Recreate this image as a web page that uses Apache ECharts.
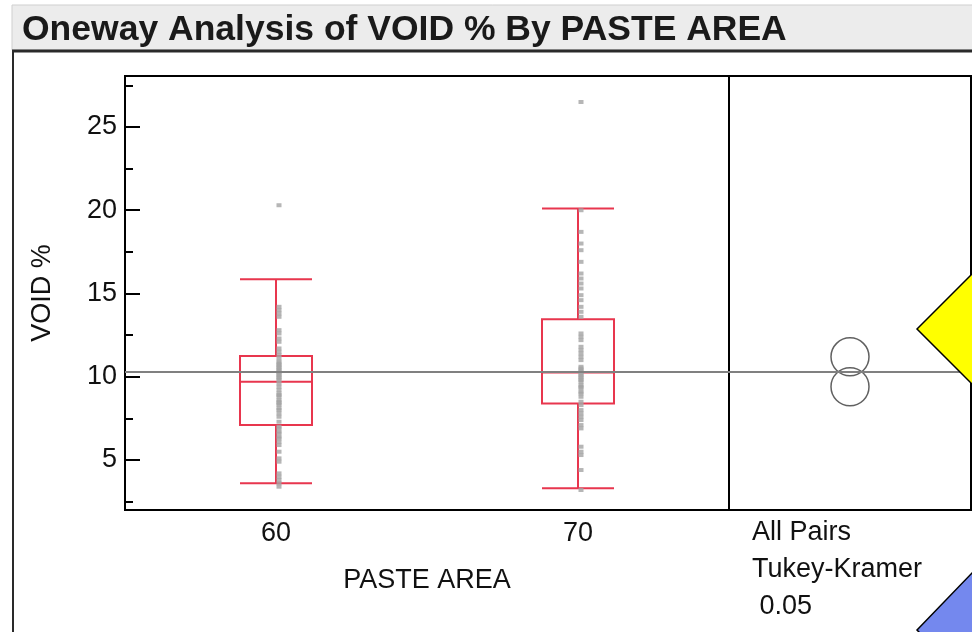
<!DOCTYPE html>
<html>
<head>
<meta charset="utf-8">
<script src="https://cdn.jsdelivr.net/npm/echarts@6/dist/echarts.min.js"></script>
<style>
  html, body { margin: 0; padding: 0; background: #fff; }
  #onewayChart { width: 972px; height: 632px; }
</style>
</head>
<body>
<div id="onewayChart"></div>
<script>
// categories and values
var pasteAreas = ['60', '70'];
// [min, q1, median, q3, max]
var boxStats = [
  [3.6, 7.1, 9.7, 11.25, 15.85],
  [3.3, 8.4, 10.25, 13.45, 20.1]
];
var voids60 = [20.3, 14.2, 14.0, 13.8, 13.6, 12.8, 12.6, 12.3, 12.1, 11.7, 11.5, 11.3, 11.1,
  10.9, 10.8, 10.7, 10.6, 10.5, 10.4, 10.3, 10.2, 10.1, 10.0, 9.9, 9.8, 9.6, 9.4, 9.2,
  9.0, 8.9, 8.8, 8.6, 8.5, 8.4, 8.3, 8.1, 8.0, 7.8, 7.6, 7.3, 7.0, 6.9, 6.7, 6.6, 6.4,
  6.3, 6.1, 5.9, 5.5, 5.1, 4.9, 4.2, 4.0, 3.8, 3.6, 3.4];
var voids70 = [26.5, 20.0, 18.7, 18.0, 17.6, 16.9, 16.2, 15.9, 15.6, 15.3, 14.9, 14.6, 14.2,
  13.9, 13.6, 12.6, 12.4, 12.2, 11.8, 11.6, 11.4, 11.2, 11.0, 10.6, 10.5, 10.4, 10.3,
  10.2, 10.1, 10.0, 9.9, 9.8, 9.7, 9.5, 9.4, 9.3, 9.1, 9.0, 8.8, 8.5, 8.3, 8.0, 7.8,
  7.6, 7.4, 7.1, 6.9, 5.8, 5.5, 5.3, 4.4, 3.2];
var groupMeans = [9.4, 11.2];
var grandMean = 10.28;
var majorTicks = [5, 10, 15, 20, 25];
var minorTicks = [2.5, 7.5, 12.5, 17.5, 22.5, 27.5];
var compareLabel = ['All Pairs', 'Tukey-Kramer', ' 0.05'];

var yMin = 2, yMax = 28.06;
var textFont = 'Liberation Sans, Arial, sans-serif';

function pts(cat, vals) {
  return vals.map(function (v) { return [cat, v]; });
}

var option = {
  animation: false,
  backgroundColor: '#fff',
  textStyle: { fontFamily: textFont },
  grid: [
    { left: 125, top: 76, width: 604, height: 434, show: true, borderColor: '#000', borderWidth: 2, backgroundColor: 'transparent' },
    { left: 729, top: 76, width: 242, height: 434, show: true, borderColor: '#000', borderWidth: 2, backgroundColor: 'transparent' }
  ],
  xAxis: [
    {
      type: 'category',
      gridIndex: 0,
      data: pasteAreas,
      boundaryGap: true,
      axisLine: { lineStyle: { color: '#000', width: 2 } },
      axisTick: { inside: true, length: 9, lineStyle: { color: '#000', width: 2 } },
      axisLabel: { color: '#111', fontSize: 27, margin: 10 },
      splitLine: { show: false },
      name: 'PASTE AREA',
      nameLocation: 'middle',
      nameGap: 57,
      nameTextStyle: { color: '#111', fontSize: 27 }
    },
    {
      type: 'category',
      gridIndex: 1,
      data: [''],
      axisLine: { lineStyle: { color: '#000', width: 2 } },
      axisTick: { show: false },
      axisLabel: { show: false },
      splitLine: { show: false }
    }
  ],
  yAxis: [
    {
      type: 'value',
      gridIndex: 0,
      min: yMin,
      max: yMax,
      axisLine: { show: true, lineStyle: { color: '#000', width: 2 } },
      axisTick: { show: true, inside: true, length: 15, customValues: majorTicks, lineStyle: { color: '#000', width: 2 } },
      axisLabel: { customValues: majorTicks, color: '#111', fontSize: 27, margin: 8 },
      splitLine: { show: false },
      name: 'VOID %',
      nameLocation: 'middle',
      nameGap: 69,
      nameTextStyle: { color: '#111', fontSize: 27 }
    },
    {
      type: 'value',
      gridIndex: 0,
      position: 'left',
      min: yMin,
      max: yMax,
      axisLine: { show: false },
      axisTick: { show: true, inside: true, length: 8, customValues: minorTicks, lineStyle: { color: '#000', width: 2 } },
      axisLabel: { show: false },
      splitLine: { show: false }
    },
    {
      type: 'value',
      gridIndex: 1,
      min: yMin,
      max: yMax,
      axisLine: { show: false },
      axisTick: { show: false },
      axisLabel: { show: false },
      splitLine: { show: false }
    }
  ],
  series: [
    {
      name: 'box',
      type: 'boxplot',
      xAxisIndex: 0,
      yAxisIndex: 0,
      boxWidth: [72, 72],
      itemStyle: { color: 'rgba(0,0,0,0)', borderColor: '#e8364e', borderWidth: 2 },
      data: boxStats,
      markLine: {
        silent: true,
        symbol: 'none',
        label: { show: false },
        lineStyle: { color: '#808080', width: 2, type: 'solid' },
        data: [{ yAxis: grandMean }]
      }
    },
    {
      name: '60',
      type: 'scatter',
      xAxisIndex: 0,
      yAxisIndex: 0,
      symbol: 'rect',
      symbolSize: [5, 4],
      symbolOffset: [3, 0],
      itemStyle: { color: '#a4a4a4' },
      data: pts('60', voids60)
    },
    {
      name: '70',
      type: 'scatter',
      xAxisIndex: 0,
      yAxisIndex: 0,
      symbol: 'rect',
      symbolSize: [5, 4],
      symbolOffset: [3, 0],
      itemStyle: { color: '#a4a4a4' },
      data: pts('70', voids70)
    },
    {
      name: 'circles',
      type: 'scatter',
      xAxisIndex: 1,
      yAxisIndex: 2,
      symbol: 'circle',
      symbolSize: 38,
      itemStyle: { color: 'rgba(0,0,0,0)', borderColor: '#3a3a3a', borderWidth: 1.5 },
      data: groupMeans.map(function (m) { return [0, m]; }),
      markLine: {
        silent: true,
        symbol: 'none',
        label: { show: false },
        lineStyle: { color: '#808080', width: 2, type: 'solid' },
        data: [{ yAxis: grandMean }]
      }
    }
  ],
  graphic: [
    { type: 'rect', shape: { x: 12, y: 5, width: 962, height: 45 }, style: { fill: '#ececec', stroke: '#cfcfcf', lineWidth: 1 }, z: -1 },
    { type: 'line', shape: { x1: 12, y1: 51, x2: 972, y2: 51 }, style: { stroke: '#2a2a2a', lineWidth: 3 } },
    { type: 'line', shape: { x1: 13, y1: 51, x2: 13, y2: 632 }, style: { stroke: '#2a2a2a', lineWidth: 2 } },
    {
      type: 'text', left: 22, top: 12,
      style: { text: 'Oneway Analysis of VOID % By PASTE AREA', font: 'bold 35.5px ' + textFont, fill: '#1a1a1a' }
    },
    {
      type: 'text', left: 752, top: 514,
      style: { text: compareLabel.join('\n'), font: '27px ' + textFont, lineHeight: 37, fill: '#111' }
    },
    {
      type: 'polygon', z: 100,
      shape: { points: [[917, 329], [972, 274], [1027, 329], [972, 384]] },
      style: { fill: '#ffff00', stroke: '#000', lineWidth: 1.5 }
    },
    {
      type: 'polygon', z: 100,
      shape: { points: [[917, 630], [972, 573], [1029, 630], [972, 687]] },
      style: { fill: '#7488ee', stroke: '#000', lineWidth: 1.5 }
    }
  ]
};

var onewayChart = echarts.init(document.getElementById('onewayChart'));
onewayChart.setOption(option);
</script>
</body>
</html>
